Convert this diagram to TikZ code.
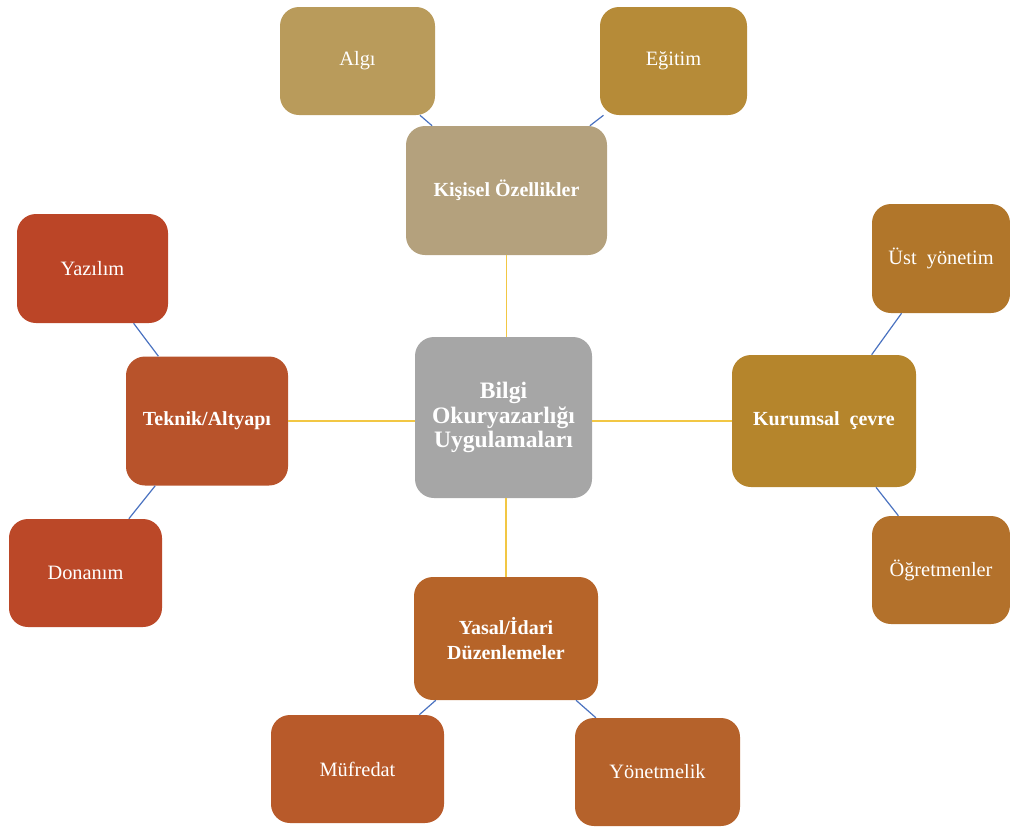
\documentclass[tikz,border=0pt]{standalone}
\usepackage{fontspec}
\setmainfont{Liberation Serif}
\definecolor{cAlgi}{HTML}{B99B5B}
\definecolor{cEgitim}{HTML}{B68B38}
\definecolor{cKisisel}{HTML}{B4A17D}
\definecolor{cYazilim}{HTML}{BB4527}
\definecolor{cUst}{HTML}{B1762A}
\definecolor{cTeknik}{HTML}{B8532B}
\definecolor{cBilgi}{HTML}{A6A6A6}
\definecolor{cKurumsal}{HTML}{B5852C}
\definecolor{cDonanim}{HTML}{BB4828}
\definecolor{cOgret}{HTML}{B3712B}
\definecolor{cYasal}{HTML}{B66429}
\definecolor{cMufredat}{HTML}{B85A2A}
\definecolor{cYonet}{HTML}{B5622B}
\definecolor{cYellow}{HTML}{F2C744}
\definecolor{cBlue}{HTML}{4A72C0}
\begin{document}
\begin{tikzpicture}[x=0.0264cm,y=-0.0264cm,
  box/.style n args={3}{rectangle, rounded corners=0.5cm, fill=#1, draw=none,
     minimum width=#2*0.0264cm, minimum height=#3*0.0264cm, inner sep=2pt,
     text=white, align=center, font=\fontsize{15.3}{18.5}\selectfont},
  mainbox/.style n args={3}{box={#1}{#2}{#3}, font=\fontsize{15}{18.5}\selectfont\bfseries},
  yel/.style={draw=cYellow, line width=1.2pt},
  blu/.style={draw=cBlue, line width=0.9pt}]
\useasboundingbox (0,0) rectangle (1010,826);
\node[mainbox={cBilgi}{177}{161}, font=\fontsize{17.7}{18.5}\selectfont\bfseries] (bilgi) at (503.5,417.5) {Bilgi\\Okuryazarlığı\\Uygulamaları};
\node[mainbox={cKisisel}{201}{129}] (kisisel) at (506.5,190.5) {Kişisel Özellikler};
\node[mainbox={cTeknik}{162}{129}] (teknik) at (207,421) {Teknik/Altyapı};
\node[mainbox={cKurumsal}{184}{132}] (kurumsal) at (824,421) {Kurumsal\ \ çevre};
\node[mainbox={cYasal}{184}{123}] (yasal) at (506,638.5) {Yasal/İdari\\Düzenlemeler};
\node[box={cAlgi}{155}{108}] (algi) at (357.5,61) {Algı};
\node[box={cEgitim}{147}{108}] (egitim) at (673.5,61) {Eğitim};
\node[box={cYazilim}{151}{109}] (yazilim) at (92.5,268.5) {Yazılım};
\node[box={cUst}{138}{109}] (ust) at (941,258.5) {Üst\ \ yönetim};
\node[box={cDonanim}{153}{108}] (donanim) at (85.5,573) {Donanım};
\node[box={cOgret}{138}{108}] (ogret) at (941,570) {Öğretmenler};
\node[box={cMufredat}{173}{108}] (mufredat) at (357.5,769) {Müfredat};
\node[box={cYonet}{165}{108}] (yonet) at (657.5,772) {Yönetmelik};
\draw[yel] (bilgi.north -| kisisel.south) -- (kisisel.south);
\draw[yel] (bilgi.west |- teknik.east) -- (teknik.east);
\draw[yel] (bilgi.east |- kurumsal.west) -- (kurumsal.west);
\draw[yel] (bilgi.south -| yasal.north) -- (yasal.north);
\draw[blu] (algi) -- (kisisel);
\draw[blu] (egitim) -- (kisisel);
\draw[blu] (yazilim) -- (teknik);
\draw[blu] (donanim) -- (teknik);
\draw[blu] (ust) -- (kurumsal);
\draw[blu] (ogret) -- (kurumsal);
\draw[blu] (mufredat) -- (yasal);
\draw[blu] (yonet) -- (yasal);
\end{tikzpicture}
\end{document}
